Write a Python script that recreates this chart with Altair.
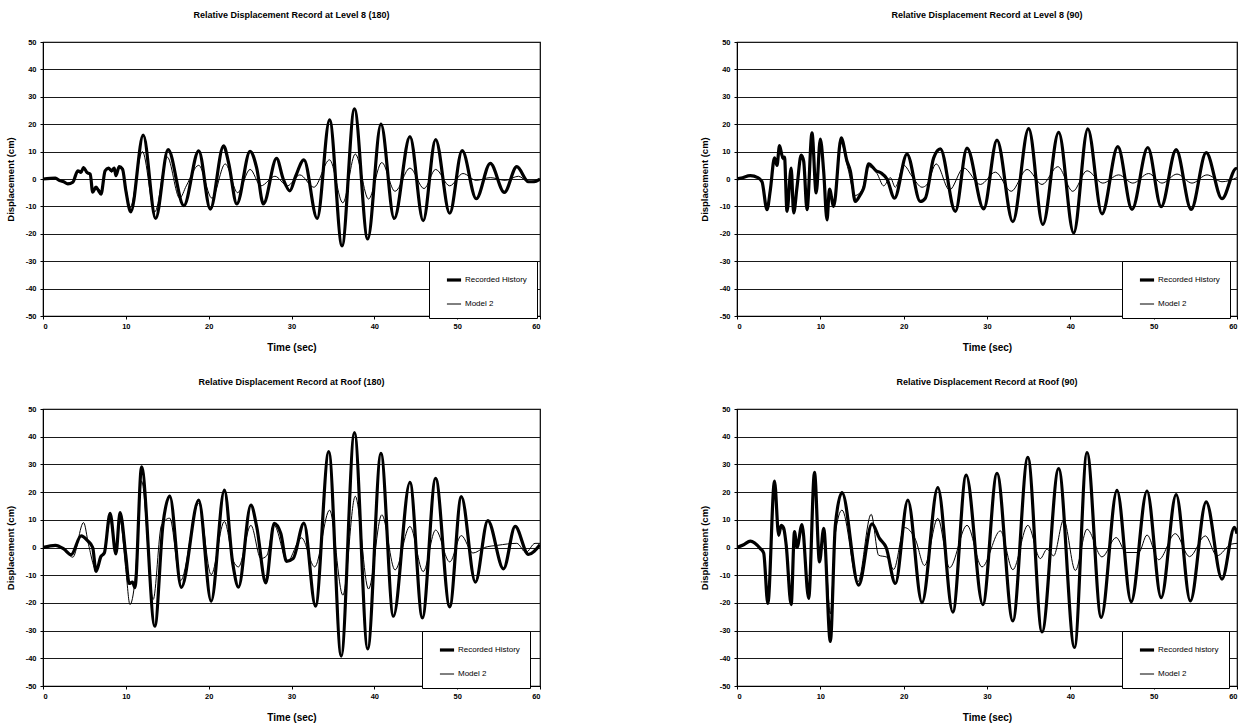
import altair as alt
import pandas as pd

FONT = "Liberation Sans"

# ---------------- data ----------------
# Level 8 (180)
l8_180_rec_t = [0, 1.5, 2.0, 2.5, 3.0, 3.6, 4.2, 4.6, 4.9, 5.3, 5.7, 6.0, 6.4, 6.7, 7.0, 7.5, 7.9, 8.3, 8.6, 8.8,
                9.2, 9.6, 10.0, 10.6, 12.1, 13.6, 15.1, 17.0, 18.8, 20.2, 21.8, 22.4, 23.4, 25.0, 25.8, 26.6,
                28.2, 29.0, 29.8, 30.5, 31.5, 33.1, 34.6, 36.1, 37.6, 39.2, 40.8, 42.4, 44.3, 45.9, 47.4, 49.1,
                50.6, 52.3, 54.0, 55.7, 57.2, 58.6, 59.3, 60]
l8_180_rec_v = [0, 0.3, -0.6, -1, -1.8, -1.2, 3, 2.5, 4.2, 2.4, 1.8, -4.8, -3, -4.2, -5.5, 3, 4, 3, 4, 1.2,
                4.5, 3.6, -4.2, -12, 16, -14.4, 10.7, -9.7, 10.3, -11, 12.1, 6, -9.1, 10.1, 4, -9.1,
                7.5, 0, -4.3, 1, 7, -14.4, 21.6, -24.4, 25.6, -21.9, 20, -14.4, 15.5, -15.2, 14.4, -12.5,
                10.4, -7.2, 5.7, -4.9, 4.5, -1, -1, 0]
l8_180_mod_t = [0, 1.5, 2.0, 2.5, 3.0, 3.6, 4.2, 4.6, 4.9, 5.3, 5.7, 6.0, 6.4, 6.7, 7.0, 7.5, 7.9, 8.3, 8.6, 8.8,
                9.2, 9.6, 10.0, 10.5, 12.0, 13.5, 15.0, 16.5, 17.3, 18.8, 20.4, 22.0, 23.5, 25.0, 26.3, 28.0,
                29.5, 31.0, 32.7, 34.6, 36.2, 37.7, 39.3, 40.9, 42.5, 44.3, 46.0, 47.4, 49.1, 50.7, 52.3, 54.0,
                55.8, 57.4, 58.6, 60]
l8_180_mod_v = [0, 0.3, -0.6, -1, -1.5, -1, 2.5, 2, 4.5, 2, 1.5, -4, -3, -3.5, -4.5, 2.5, 3.5, 2.5, 3.5, 1,
                4, 3, -3, -10.5, 10, -12, 8, -7, -2.5, 5, -7, 5.5, -5, 3.5, -2.5, 1,
                -2.5, 1.5, -3, 7, -8.7, 9.1, -7.3, 6, -4.5, 4, -3.5, 3.5, -2.5, 2, -0.5, 0.5,
                -0.5, 1, -1, 0]

# Level 8 (90)
l8_90_rec_t = [0, 0.5, 1.6, 2.5, 3.0, 3.6, 4.0, 4.5, 4.8, 5.1, 5.5, 5.7, 6.0, 6.5, 6.8, 7.2, 7.7, 8.0, 8.4, 9.0,
               9.5, 10.0, 10.4, 10.8, 11.1, 11.6, 12.5, 13.2, 13.6, 14.2, 14.8, 15.2, 15.8, 16.7, 17.3, 18.0,
               18.9, 20.4, 22.0, 22.6, 23.6, 24.4, 26.2, 27.6, 29.6, 31.2, 33.1, 35.0, 36.7, 38.6, 40.4, 42.1,
               43.8, 45.7, 47.4, 49.3, 50.9, 52.7, 54.5, 56.3, 58.2, 59.9, 60]
l8_90_rec_v = [0, 0.3, 1.2, 0.5, -1, -11.2, -4, 7.7, 5, 12.2, 7.7, 8, -11.8, 4, -12.4, -3, 8.7, 6.5, -11.2, 16.8,
               -5.1, 14.6, 2.8, -14.9, -3.7, -10, 15, 6.5, 3, -8.2, -5.7, -3.3, 5.5, 3, 2.2, 0,
               -7, 9.1, -8.2, -7, 7.7, 11, -11.8, 11.3, -10.9, 14.2, -15.6, 18.4, -16.6, 17, -19.7, 18.3,
               -12.7, 11.8, -11.1, 11.5, -10.1, 10.7, -11.1, 9.6, -7.2, 3.8, 3.5]
l8_90_mod_t = [0, 0.5, 1.6, 2.5, 3.0, 3.6, 4.0, 4.5, 4.8, 5.1, 5.5, 5.7, 6.0, 6.5, 6.8, 7.2, 7.7, 8.0, 8.4, 9.0,
               9.5, 10.0, 10.4, 10.8, 11.1, 11.6, 12.5, 13.3, 14.2, 15.0, 15.8, 16.8, 17.6, 18.4, 19.0, 20.0,
               21.0, 22.2, 22.8, 23.9, 25.5, 27.2, 29.2, 31.0, 32.9, 34.8, 36.6, 38.5, 40.3, 42.0, 43.9, 45.8,
               47.5, 49.4, 51.0, 52.8, 54.6, 56.4, 58.2, 60]
l8_90_mod_v = [0, 0.3, 1.2, 0.5, -1, -10.5, -4, 7, 5, 11, 7, 7.5, -10.5, 4, -11.5, -3, 8, 6, -10.5, 15.5,
               -4.5, 14, 2.5, -13.5, -3.5, -9, 13, 4, -6, -4, 4.5, 2, -2.5, 0.5, -3, 5,
               1, -3, -2, 5.5, -4, 4, -2, 2.5, -4.5, 3.5, -2, 4.5, -4.5, 3, -1.5, 1.5,
               -1.5, 2, -1.5, 1.8, -1.5, 1.5, -1, 0.5]

# Roof (180)
roof_180_rec_t = [0, 1.5, 2.5, 3.4, 4.6, 5.4, 6.0, 6.4, 7.0, 7.4, 8.1, 8.8, 9.3, 10.0, 10.4, 10.8, 11.1, 11.9,
                  13.5, 14.5, 15.3, 16.7, 18.8, 20.3, 21.9, 22.9, 23.6, 25.1, 25.8, 26.9, 27.9, 28.7, 29.4, 30.2,
                  31.5, 32.9, 34.5, 36.0, 37.6, 39.2, 40.8, 42.3, 44.3, 45.8, 47.4, 49.1, 50.5, 52.2, 53.7, 55.6,
                  57.0, 58.6, 60]
roof_180_rec_v = [0, 0.8, -0.5, -2.6, 4.2, 2.4, 0, -8.6, -3.2, -2, 12.3, -2.3, 12.6, -3, -13, -12.5, -14.5, 29.1,
                  -28.4, 8.8, 18.6, -14.4, 17.1, -19.4, 20.7, -5.6, -14.3, 15.3, 7.5, -12.8, 8.7, 5.1, -5, -4,
                  8.8, -21.2, 34.6, -39.2, 41.5, -36.6, 34, -24.8, 23.5, -25.4, 25, -21.4, 18.4, -12.5, 9.7, -7.7,
                  7.6, -2.5, 1]
roof_180_mod_t = [0, 1.5, 2.5, 3.6, 4.9, 5.5, 6.4, 7.0, 7.4, 8.1, 8.8, 9.3, 10.0, 10.5, 11.1, 11.9, 13.3, 14.3,
                  15.3, 16.6, 18.8, 20.3, 21.9, 23.0, 23.6, 25.1, 26.3, 27.0, 27.9, 29.5, 31.2, 32.8, 34.6, 36.2,
                  37.7, 39.3, 40.9, 42.5, 44.3, 45.9, 47.4, 49.1, 50.5, 51.9, 53.3, 54.9, 57.2, 58.3, 59.4, 60]
roof_180_mod_v = [0, 0.8, -0.5, -3.5, 9, 1, -8, -3, -2, 10, -2, 10, -8, -20.6, -12, 24, -18.8, 8,
                  10.6, -12, 16, -9.8, 9.4, -5, -7, 8, -4, -3, 8, -5, 3.5, -7, 13.5, -17.2,
                  18.5, -15, 11.8, -8.1, 7.6, -8.7, 6.3, -5.2, 4.3, -2, 0, 0.8, 1.5, -1.8, 1.5, 1.5]

# Roof (90)
roof_90_rec_t = [0, 0.8, 1.6, 2.8, 3.2, 3.7, 4.5, 5.0, 5.3, 5.6, 5.9, 6.5, 6.9, 7.2, 7.8, 8.6, 9.3, 9.9, 10.4,
                 11.2, 11.8, 12.6, 14.6, 16.2, 17.1, 17.9, 19.0, 20.5, 22.2, 24.1, 25.9, 27.5, 29.5, 31.2, 33.1,
                 34.9, 36.6, 38.6, 40.5, 42.0, 43.7, 45.6, 47.3, 49.2, 50.9, 52.7, 54.4, 56.3, 58.2, 59.7, 60]
roof_90_rec_v = [0, 1, 2.3, -0.4, -2, -20.2, 24, 4.5, 8, 7, 1, -20.6, 5.7, 0, 8.3, -18.4, 27.1, -5.2, 6.9,
                 -33.9, 8, 19.8, -13.6, 8.5, 3.3, 0, -13, 17.1, -19.9, 21.6, -23.3, 26.1, -20.6, 26.8, -26.5,
                 32.5, -30.5, 28.5, -36.1, 34.3, -25.2, 20.6, -19.6, 20.4, -18.1, 19.1, -19.3, 16.5, -11.4, 7.3, 5]
roof_90_mod_t = [0, 0.8, 1.6, 2.8, 3.2, 3.7, 4.5, 5.0, 5.3, 5.6, 5.9, 6.5, 6.9, 7.2, 7.8, 8.6, 9.3, 9.9, 10.4,
                 11.2, 11.8, 12.6, 14.5, 16.1, 17.0, 18.0, 18.8, 20.1, 21.4, 22.5, 24.1, 25.5, 27.6, 29.4, 31.6,
                 33.1, 34.9, 36.4, 37.2, 38.0, 39.2, 40.6, 42.0, 43.8, 45.5, 46.7, 48.2, 49.2, 50.6, 52.6, 54.3,
                 56.2, 57.6, 59.3, 60]
roof_90_mod_v = [0, 1, 2.3, -0.4, -2, -19, 22, 4, 7, 6, 1, -19, 5, 0, 7.5, -17, 25, -5, 6,
                 -24, 5, 13.5, -12.5, 12, -2.8, -3.5, -7.9, 7.2, 3, -6.5, 10.5, -7.3, 8, -7, 6,
                 -8, 8, -4, -0.6, -3, 10, -8.3, 6.6, -3.4, 3.6, -1.8, -1.8, 4.5, -4.4, 5, -3.3,
                 4.2, -3, 1.2, 1.5]

x_ticks = [0, 10, 20, 30, 40, 50, 60]
y_ticks = [-50, -40, -30, -20, -10, 0, 10, 20, 30, 40, 50]


def frame(rec_t, rec_v, mod_t, mod_v, rec_name, mod_name):
    a = pd.DataFrame({"t": rec_t, "v": rec_v, "series": rec_name})
    b = pd.DataFrame({"t": mod_t, "v": mod_v, "series": mod_name})
    return pd.concat([a, b], ignore_index=True)


def panel(df, title, rec_name, mod_name, w, h, lx, ly):
    legend = alt.Legend(
        orient="none", legendX=lx, legendY=ly, title=None,
        symbolType="stroke", symbolSize=200, symbolStrokeColor="black",
        fillColor="white", strokeColor="black", padding=10, symbolOffset=6,
        labelOffset=2, rowPadding=9, labelFont=FONT, labelFontSize=8, labelColor="black",
        cornerRadius=0,
    )
    return alt.Chart(df).mark_line(interpolate="monotone", clip=True, color="black").encode(
        x=alt.X("t:Q", scale=alt.Scale(domain=[0, 60], nice=False),
                axis=alt.Axis(values=x_ticks, title="Time (sec)", grid=False,
                              labelExpr="'' + datum.value")),
        y=alt.Y("v:Q", scale=alt.Scale(domain=[-50, 50], nice=False),
                axis=alt.Axis(values=y_ticks, title="Displacement (cm)", grid=True,
                              labelExpr="'' + datum.value")),
        strokeWidth=alt.StrokeWidth("series:N", scale=alt.Scale(domain=[rec_name, mod_name], range=[3.2, 1.0]),
                                    legend=legend),
    ).properties(
        width=w, height=h,
        title=alt.TitleParams(title, fontSize=9, font=FONT, fontWeight="bold", color="black",
                              anchor="middle", offset=18),
    )


p1 = panel(frame(l8_180_rec_t, l8_180_rec_v, l8_180_mod_t, l8_180_mod_v, "Recorded History", "Model 2"),
           "Relative Displacement Record at Level 8 (180)", "Recorded History", "Model 2", 497, 274, 386, 219)
p2 = panel(frame(l8_90_rec_t, l8_90_rec_v, l8_90_mod_t, l8_90_mod_v, "Recorded History", "Model 2"),
           "Relative Displacement Record at Level 8 (90)", "Recorded History", "Model 2", 500, 274, 385, 219)
p3 = panel(frame(roof_180_rec_t, roof_180_rec_v, roof_180_mod_t, roof_180_mod_v, "Recorded History", "Model 2"),
           "Relative Displacement Record at Roof (180)", "Recorded History", "Model 2", 497, 277, 379, 222)
p4 = panel(frame(roof_90_rec_t, roof_90_rec_v, roof_90_mod_t, roof_90_mod_v, "Recorded history", "Model 2"),
           "Relative Displacement Record at Roof (90)", "Recorded history", "Model 2", 500, 277, 385, 222)

chart = alt.concat(
    p1, p2, p3, p4, columns=2, spacing={"row": 93, "column": 197}, bounds="flush"
).resolve_scale(
    strokeWidth="independent"
).resolve_legend(
    strokeWidth="independent"
).configure(
    background="white",
    padding={"left": 4, "top": 10, "right": 5, "bottom": 5},
).configure_view(
    stroke="black", strokeWidth=1.2,
).configure_axis(
    labelFont=FONT, labelFontSize=7.5, labelFontWeight="bold", labelColor="black",
    titleFont=FONT, titleFontWeight="bold", titleColor="black",
    domainColor="black", tickColor="black", tickSize=3,
    gridColor="#1a1a1a", gridWidth=1, gridOpacity=1,
).configure_axisX(
    titleFontSize=10, labelPadding=3, titlePadding=13,
).configure_axisY(
    titleFontSize=9.5, labelPadding=4, titlePadding=10,
)

chart.save("out.html", embed_options={"renderer": "svg", "actions": False})
